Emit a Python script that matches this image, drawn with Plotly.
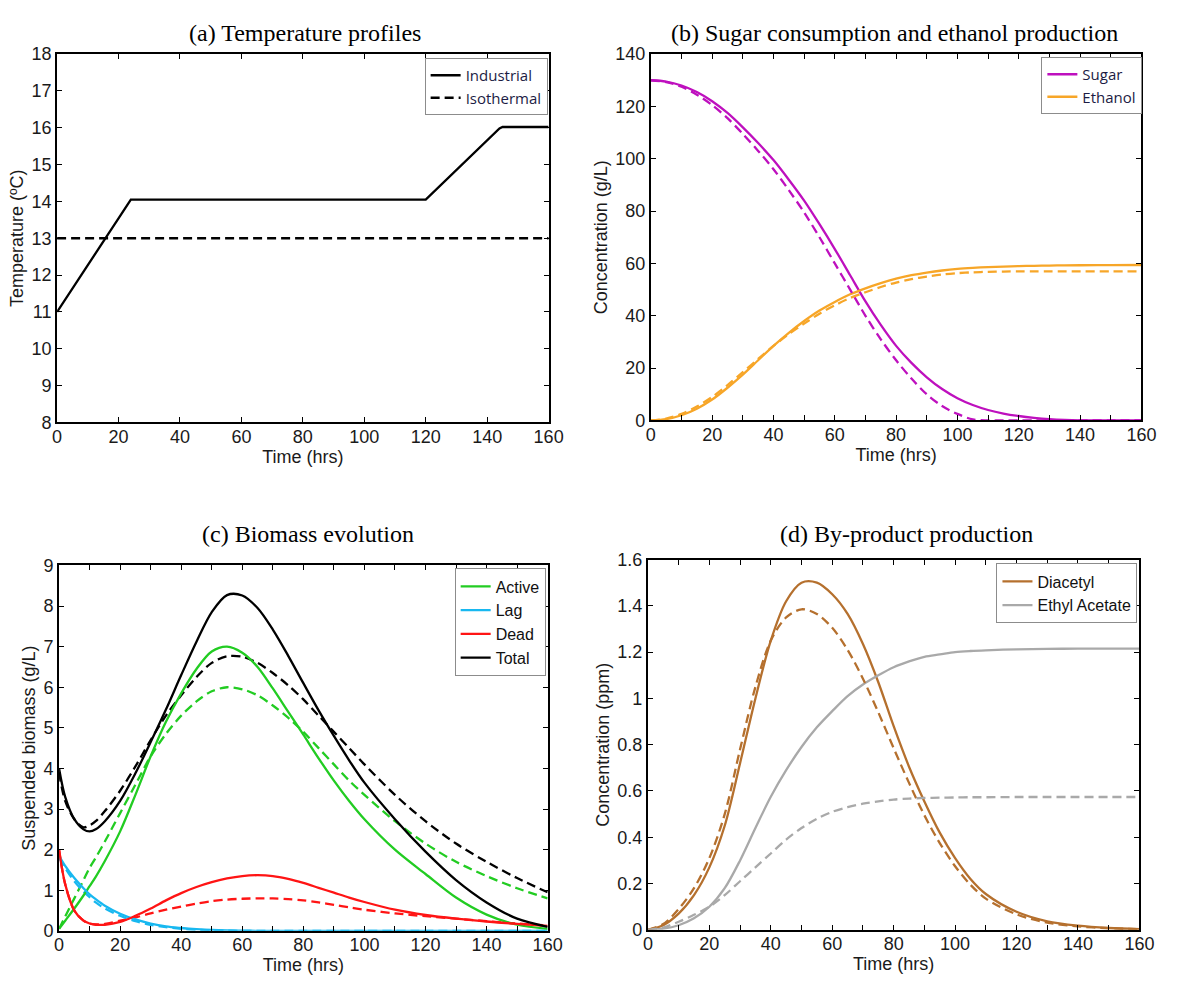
import plotly.graph_objects as go

W, H = 1179, 981

# ---------------- data ----------------
# (a) Temperature profiles
t_temp_ind = [0, 24, 120, 144, 145, 160]
temp_ind = [11.0, 14.05, 14.05, 15.98, 16.02, 16.02]
t_temp_iso = [0, 160]
temp_iso = [13.0, 13.0]

# (b) Sugar / ethanol
t_b = [0, 5, 10, 15, 20, 25, 30, 35, 40, 45, 50, 55, 60, 65, 70, 75, 80, 85, 90,
       95, 100, 105, 110, 115, 120, 125, 130, 135, 140, 150, 160]
sugar_ind = [130, 129.5, 128, 125.5, 122, 117.5, 112, 106, 99.5, 92, 84, 75, 65.5, 55.5,
             45.5, 36.5, 28.5, 22, 16.5, 12, 8.5, 5.9, 4.0, 2.65, 1.7, 1.0, 0.5, 0.2,
             0.05, 0, 0]
sugar_iso = [130, 129.3, 127.5, 124.5, 120.5, 115.5, 109.5, 103, 96, 88, 79.5, 70, 60, 50,
             40, 31, 23, 16, 10, 5.5, 2.5, 0.4, 0, 0, 0, 0, 0, 0, 0, 0, 0]
ethanol_ind = [0, 0.5, 2, 4.5, 8, 12.5, 17.5, 23, 28.5, 33.5, 38, 42, 45.3, 48.2, 50.5,
               52.5, 54.2, 55.5, 56.5, 57.3, 57.9, 58.3, 58.6, 58.8, 59.0, 59.1, 59.2,
               59.25, 59.3, 59.35, 59.4]
ethanol_iso = [0, 0.7, 2.5, 5.3, 9, 13.5, 18.5, 23.5, 28.5, 33, 37, 40.8, 44, 46.8, 49,
               51, 52.7, 54, 55, 55.8, 56.3, 56.6, 56.8, 56.9, 57, 57, 57, 57, 57, 57, 57]

# (c) Biomass evolution
t_c = [0, 2, 5, 8, 10, 12, 15, 20, 25, 30, 35, 40, 45, 50, 55, 60, 65, 70, 75, 80, 85,
       90, 95, 100, 110, 120, 130, 140, 150, 160]
active_ind = [0.05, 0.25, 0.55, 0.87, 1.1, 1.33, 1.72, 2.45, 3.35, 4.3, 5.15, 5.85, 6.45,
              6.88, 7.0, 6.85, 6.5, 5.97, 5.4, 4.83, 4.25, 3.7, 3.2, 2.75, 2.0, 1.4,
              0.82, 0.4, 0.15, 0.05]
active_iso = [0.05, 0.35, 0.8, 1.25, 1.55, 1.8, 2.2, 2.9, 3.6, 4.3, 4.85, 5.3, 5.65,
              5.9, 6.0, 5.95, 5.8, 5.55, 5.25, 4.9, 4.5, 4.1, 3.7, 3.35, 2.7, 2.15,
              1.7, 1.35, 1.05, 0.8]
lag_ind = [1.85, 1.6, 1.3, 1.05, 0.9, 0.78, 0.62, 0.42, 0.28, 0.18, 0.11, 0.07, 0.04,
           0.02, 0.01, 0.005, 0, 0, 0, 0, 0, 0, 0, 0, 0, 0, 0, 0, 0, 0]
lag_iso = [1.8, 1.55, 1.22, 0.97, 0.83, 0.7, 0.55, 0.37, 0.24, 0.15, 0.09, 0.05, 0.03,
           0.01, 0.005, 0, 0, 0, 0, 0, 0, 0, 0, 0, 0, 0, 0, 0, 0, 0]
dead_ind = [2.0, 1.15, 0.5, 0.25, 0.18, 0.15, 0.15, 0.22, 0.37, 0.55, 0.75, 0.93, 1.08,
            1.2, 1.29, 1.35, 1.37, 1.35, 1.28, 1.18, 1.06, 0.94, 0.82, 0.71, 0.52, 0.39,
            0.3, 0.23, 0.17, 0.12]
dead_iso = [2.0, 1.15, 0.5, 0.25, 0.18, 0.16, 0.17, 0.25, 0.33, 0.43, 0.52, 0.6, 0.67,
            0.73, 0.77, 0.79, 0.8, 0.8, 0.78, 0.75, 0.7, 0.64, 0.58, 0.52, 0.43, 0.36,
            0.3, 0.24, 0.18, 0.13]
total_ind = [4.0, 3.3, 2.75, 2.5, 2.45, 2.5, 2.7, 3.2, 3.88, 4.65, 5.45, 6.3, 7.12,
             7.85, 8.27, 8.26, 7.95, 7.42, 6.78, 6.1, 5.43, 4.8, 4.2, 3.65, 2.75, 1.95,
             1.25, 0.7, 0.3, 0.1]
total_iso = [3.9, 3.2, 2.75, 2.55, 2.6, 2.7, 2.95, 3.45, 4.05, 4.7, 5.3, 5.8, 6.25,
             6.6, 6.76, 6.75, 6.6, 6.35, 6.05, 5.7, 5.3, 4.9, 4.5, 4.1, 3.35, 2.7,
             2.15, 1.7, 1.3, 0.95]

# (d) By-product production
t_d = [0, 5, 10, 15, 20, 25, 30, 35, 40, 45, 50, 55, 60, 65, 70, 75, 80, 85, 90,
       95, 100, 105, 110, 120, 130, 140, 150, 160]
diacetyl_ind = [0, 0.02, 0.07, 0.15, 0.27, 0.45, 0.72, 1.0, 1.25, 1.42, 1.5, 1.5,
                1.45, 1.365, 1.235, 1.07, 0.88, 0.705, 0.555, 0.42, 0.31, 0.22,
                0.155, 0.078, 0.037, 0.018, 0.008, 0.003]
diacetyl_iso = [0, 0.025, 0.09, 0.18, 0.31, 0.5, 0.78, 1.05, 1.25, 1.35, 1.385,
                1.365, 1.305, 1.21, 1.085, 0.94, 0.785, 0.635, 0.495, 0.375, 0.275,
                0.195, 0.135, 0.067, 0.031, 0.015, 0.007, 0.003]
ethylac_ind = [0, 0.005, 0.02, 0.05, 0.1, 0.18, 0.3, 0.44, 0.575, 0.69, 0.79,
               0.875, 0.945, 1.01, 1.06, 1.1, 1.135, 1.16, 1.18, 1.19, 1.2, 1.205, 1.208,
               1.212, 1.214, 1.215, 1.215, 1.215]
ethylac_iso = [0, 0.01, 0.035, 0.065, 0.1, 0.15, 0.21, 0.27, 0.33, 0.39, 0.44,
               0.48, 0.51, 0.53, 0.545, 0.555, 0.563, 0.567, 0.57, 0.571, 0.572, 0.573,
               0.573, 0.574, 0.574, 0.574, 0.574, 0.574]

titles = ["(a) Temperature profiles", "(b) Sugar consumption and ethanol production",
          "(c) Biomass evolution", "(d) By-product production"]

# ---------------- styling ----------------
C_SUGAR = "#BE10BE"
C_ETH = "#F7A628"
C_ACT = "#22CC22"
C_LAG = "#18B8F0"
C_DEAD = "#FF1414"
C_TOT = "#000000"
C_DIA = "#B5702E"
C_EA = "#A9A9A9"
LW = 2.3
DASH = "9px,5px"

# pixel boxes of the plot areas: (left, right, top, bottom)
boxes = {
    "a": (53, 553, 45, 421),
    "b": (657, 1156, 45, 419),
    "c": (55, 552, 567, 940),
    "d": (654, 1154, 561, 939),
}


def xdom(k):
    l, r, t, b = boxes[k]
    return [l / W, r / W]


def ydom(k):
    l, r, t, b = boxes[k]
    return [1 - b / H, 1 - t / H]


TICKFONT = dict(family="Liberation Sans, Arial", size=18, color="#1a1a1a")
TITLEFONT = dict(family="Liberation Sans, Arial", size=18, color="#1a1a1a")


def axis(dom, rng, dtick, title, anchor, minor=None, standoff=2, is_x=True):
    d = dict(domain=dom, range=rng, dtick=dtick, tick0=0, ticks="inside", ticklen=5,
             tickwidth=1.2, tickcolor="black", showline=True, linecolor="black",
             linewidth=2, mirror="ticks", showgrid=False, zeroline=False,
             tickfont=TICKFONT, anchor=anchor, fixedrange=True,
             title=dict(text=title, font=TITLEFONT, standoff=standoff))
    if is_x:
        d["ticklabelstandoff"] = -3
    if minor:
        d["minor"] = dict(dtick=minor, ticks="inside", ticklen=5, tickwidth=1.2,
                          tickcolor="black", showgrid=False)
    return d


fig = go.Figure()


def line(x, y, color, name, xa, ya, leg, dash=None, show=True, shape="spline"):
    fig.add_trace(go.Scatter(
        x=x, y=y, mode="lines", name=name, xaxis=xa, yaxis=ya, legend=leg,
        showlegend=show, hoverinfo="skip",
        line=dict(color=color, width=LW, dash=dash or "solid", shape=shape,
                  smoothing=0.9 if shape == "spline" else None)))


# (a)
line(t_temp_ind, temp_ind, "black", "Industrial", "x", "y", "legend", shape="linear")
line(t_temp_iso, temp_iso, "black", "Isothermal", "x", "y", "legend", dash=DASH,
     shape="linear")
# (b)
line(t_b, sugar_ind, C_SUGAR, "Sugar", "x2", "y2", "legend2")
line(t_b, ethanol_ind, C_ETH, "Ethanol", "x2", "y2", "legend2")
line(t_b, sugar_iso, C_SUGAR, "Sugar (iso)", "x2", "y2", "legend2", dash=DASH, show=False)
line(t_b, ethanol_iso, C_ETH, "Ethanol (iso)", "x2", "y2", "legend2", dash=DASH, show=False)
# (c)
line(t_c, active_iso, C_ACT, "Active (iso)", "x3", "y3", "legend3", dash=DASH, show=False)
line(t_c, total_iso, C_TOT, "Total (iso)", "x3", "y3", "legend3", dash=DASH, show=False)
line(t_c, dead_iso, C_DEAD, "Dead (iso)", "x3", "y3", "legend3", dash=DASH, show=False)
line(t_c, lag_iso, C_LAG, "Lag (iso)", "x3", "y3", "legend3", dash=DASH, show=False)
line(t_c, active_ind, C_ACT, "Active", "x3", "y3", "legend3")
line(t_c, lag_ind, C_LAG, "Lag", "x3", "y3", "legend3")
line(t_c, dead_ind, C_DEAD, "Dead", "x3", "y3", "legend3")
line(t_c, total_ind, C_TOT, "Total", "x3", "y3", "legend3")
# (d)
line(t_d, diacetyl_ind, C_DIA, "Diacetyl", "x4", "y4", "legend4")
line(t_d, ethylac_ind, C_EA, "Ethyl Acetate", "x4", "y4", "legend4")
line(t_d, diacetyl_iso, C_DIA, "Diacetyl (iso)", "x4", "y4", "legend4", dash=DASH, show=False)
line(t_d, ethylac_iso, C_EA, "Ethyl Acetate (iso)", "x4", "y4", "legend4", dash=DASH, show=False)


def legend_box(right_px, top_px, font):
    return dict(x=right_px / W, y=1 - top_px / H, xanchor="right", yanchor="top",
                bgcolor="white", bordercolor="#8c8c8c", borderwidth=1, font=font,
                itemwidth=30, tracegroupgap=0, itemclick=False, itemdoubleclick=False)


LEGFONT_A = dict(family="Open Sans, Noto Sans", size=15, color="#1c1c44")
LEGFONT_C = dict(family="Liberation Sans, Arial", size=16, color="#111111")

annotations = []
centers = [(305, 23), (905, 23), (308, 535), (917, 535)]
for txt, (cx, cy) in zip(titles, centers):
    annotations.append(dict(text=txt, x=cx / W, y=1 - cy / H, xref="paper", yref="paper",
                            xanchor="center", yanchor="middle", showarrow=False,
                            font=dict(family="Liberation Serif, Times New Roman", size=24,
                                      color="black")))

fig.update_layout(
    width=W, height=H, margin=dict(l=0, r=0, t=0, b=0),
    paper_bgcolor="white", plot_bgcolor="white",
    xaxis=axis(xdom("a"), [0, 160], 20, "Time (hrs)", "y", standoff=0),
    yaxis=axis(ydom("a"), [8, 18], 1, "Temperature (ºC)", "x", standoff=3, is_x=False),
    xaxis2=axis(xdom("b"), [0, 160], 20, "Time (hrs)", "y2", minor=10, standoff=0),
    yaxis2=axis(ydom("b"), [0, 140], 20, "Concentration (g/L)", "x2", standoff=3,
                is_x=False),
    xaxis3=axis(xdom("c"), [0, 160], 20, "Time (hrs)", "y3", minor=10, standoff=0),
    yaxis3=axis(ydom("c"), [0, 9], 1, "Suspended biomass (g/L)", "x3", standoff=3,
                is_x=False),
    xaxis4=axis(xdom("d"), [0, 160], 20, "Time (hrs)", "y4", minor=10, standoff=0),
    yaxis4=axis(ydom("d"), [0, 1.6], 0.2, "Concentration (ppm)", "x4", standoff=3,
                is_x=False),
    legend=legend_box(552, 49, LEGFONT_A),
    legend2=legend_box(1157, 48, LEGFONT_A),
    legend3=legend_box(550, 570, LEGFONT_C),
    legend4=legend_box(1152, 565, LEGFONT_C),
    annotations=annotations,
    showlegend=True,
)
fig.update_yaxes(tickformat="~g")

fig.write_html("out.html")
